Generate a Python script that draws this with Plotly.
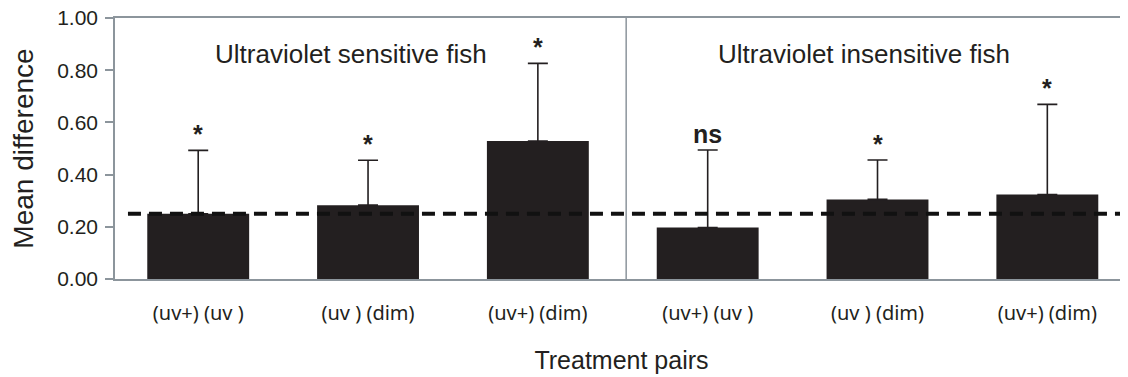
import plotly.graph_objects as go

categories = ["(uv+) (uv )", "(uv ) (dim)", "(uv+) (dim)", "(uv+) (uv )", "(uv ) (dim)", "(uv+) (dim)"]
means = [0.25, 0.283, 0.529, 0.197, 0.305, 0.324]
upper = [0.493, 0.455, 0.826, 0.494, 0.456, 0.669]
signif = ["*", "*", "*", "ns", "*", "*"]
reference_level = 0.25
y_ticks = [0.0, 0.2, 0.4, 0.6, 0.8, 1.0]
panel_titles = ["Ultraviolet sensitive fish", "Ultraviolet insensitive fish"]

xpos = list(range(len(categories)))
err_plus = [u - m for u, m in zip(upper, means)]

AX = "#8c959c"
BAR = "#231f20"
ARIAL = "Liberation Sans"

fig = go.Figure()
fig.add_trace(go.Bar(
    x=xpos, y=means, width=0.6,
    marker=dict(color=BAR, line=dict(width=0)),
    error_y=dict(type="data", array=err_plus, arrayminus=[0]*len(means),
                 symmetric=False, color="#231f20", thickness=1.6, width=10),
    showlegend=False,
))

# reference dashed line
fig.add_shape(type="line", xref="paper", yref="y", x0=0.0128, x1=1,
              y0=reference_level, y1=reference_level,
              line=dict(color="#111111", width=4, dash="13px,8px"), layer="above")

# panel divider
fig.add_shape(type="line", xref="x", yref="paper", x0=2.52, x1=2.52, y0=0, y1=1,
              line=dict(color=AX, width=1.5))

for i, (u, s) in enumerate(zip(upper, signif)):
    fig.add_annotation(x=xpos[i], y=u, text=f"<b>{s}</b>", showarrow=False,
                       xanchor="center", yanchor="bottom", yshift=0,
                       font=dict(family=ARIAL, size=25, color="#231f20"))

for xp, t in zip([0.233, 0.739], panel_titles):
    fig.add_annotation(x=xp, y=0.862, xref="paper", yref="paper",
                       text=t, showarrow=False, xanchor="center", yanchor="middle",
                       font=dict(family=ARIAL, size=26, color="#231f20"))

fig.update_layout(
    width=1120, height=369,
    margin=dict(l=107, r=0, t=10, b=98, autoexpand=False),
    plot_bgcolor="white", paper_bgcolor="white",
    xaxis=dict(range=[-0.49, 5.475], tickvals=xpos, ticktext=categories,
               showline=True, linecolor=AX, linewidth=1.5, mirror=True,
               ticks="", ticklabelstandoff=15, showgrid=False, zeroline=False,
               automargin=False, ticklabeloverflow="allow",
               tickfont=dict(family="Noto Sans", size=20, color="#231f20"),
               title=dict(text="Treatment pairs", standoff=27,
                          font=dict(family=ARIAL, size=25, color="#231f20"))),
    yaxis=dict(range=[0, 1.0], tickvals=y_ticks, tickformat=".2f",
               showline=True, linecolor=AX, linewidth=1.5,
               ticks="outside", ticklen=8, tickcolor=AX, tickwidth=1.5,
               ticklabelstandoff=3, ticklabeloverflow="allow",
               showgrid=False, zeroline=False, automargin=False,
               tickfont=dict(family=ARIAL, size=21, color="#231f20"),
               title=dict(text="Mean difference", standoff=16,
                          font=dict(family=ARIAL, size=28, color="#231f20"))),
)

fig.write_html("out.html")
